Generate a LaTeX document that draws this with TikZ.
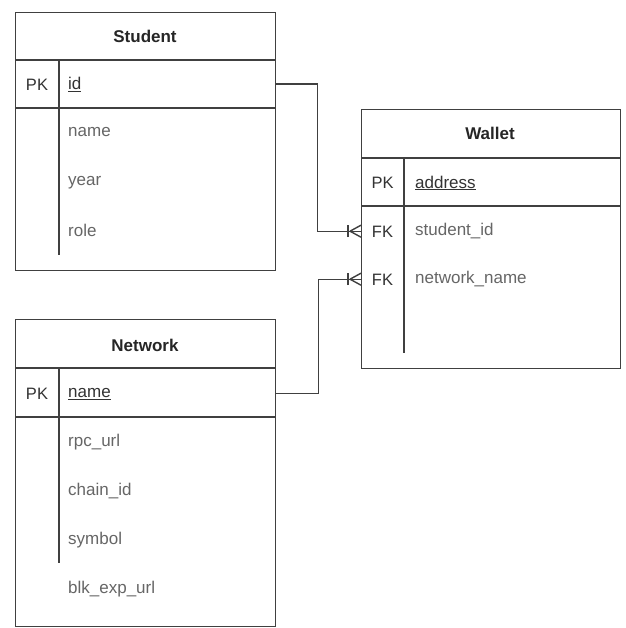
\documentclass[tikz,border=0pt]{standalone}
\usepackage{fontspec}
\setmainfont{Liberation Sans}
\begin{document}
\begin{tikzpicture}[x=1pt,y=-1pt,
  tbl/.style={draw=black!75,line width=1.4pt,fill=white,anchor=north west,inner sep=0pt},
  rowbox/.style={anchor=north west,inner sep=0pt,minimum width=#1,minimum height=48},
  sep/.style={draw=black!75,line width=1.4pt},
  hdr/.style={font=\fontsize{17}{20}\selectfont\bfseries,text=black!85},
  keytxt/.style={font=\fontsize{16.5}{19}\selectfont,text=black!80},
  fld/.style={font=\fontsize{17}{20}\selectfont,text=black!60,anchor=west,inner sep=0pt},
  pkfld/.style={font=\fontsize{17}{20}\selectfont,text=black!80,anchor=west,inner sep=0pt},
  conn/.style={draw=black!75,line width=1.4pt}]
\useasboundingbox (0,0) rectangle (625,628);

% ---------- Student ----------
\node[tbl,minimum width=260,minimum height=258] (student) at (15,12) {};
\node[hdr] (studenthdr) at (145,36) {Student};
\node[rowbox=260] (sidrow) at (15,60) {};
\draw[sep] (15,60) -- (275,60);
\draw[sep] (15,108) -- (275,108);
\draw[sep] (59,60) -- (59,255);
\node[keytxt] (spk) at (37,84.5) {PK};
\node[pkfld] (sid) at (68,84.5) {\underline{id}};
\node[fld] (sname) at (68,132.5) {name};
\node[fld] (syear) at (68,182.5) {year};
\node[fld] (srole) at (68,230.5) {role};

% ---------- Network ----------
\node[tbl,minimum width=260,minimum height=307] (network) at (15,319) {};
\node[hdr] (networkhdr) at (145,345) {Network};
\node[rowbox=260] (nnamerow) at (15,369) {};
\draw[sep] (15,368) -- (275,368);
\draw[sep] (15,417) -- (275,417);
\draw[sep] (59,368) -- (59,563);
\node[keytxt] (npk) at (37,394) {PK};
\node[pkfld] (nname) at (68,394) {\underline{name}};
\node[fld] (nrpc) at (68,442) {rpc\_url};
\node[fld] (nchain) at (68,491.5) {chain\_id};
\node[fld] (nsym) at (68,540.5) {symbol};
\node[fld] (nblk) at (68,589.5) {blk\_exp\_url};

% ---------- Wallet ----------
\node[tbl,minimum width=259,minimum height=259] (wallet) at (361,109) {};
\node[hdr] (wallethdr) at (490,133) {Wallet};
\draw[sep] (361,158) -- (620,158);
\draw[sep] (361,206) -- (620,206);
\draw[sep] (404,158) -- (404,353);
\node[keytxt] (wpk) at (382.5,183) {PK};
\node[pkfld] (waddr) at (415,183) {\underline{address}};
\node[rowbox=259] (wstudrow) at (361,207) {};
\node[rowbox=259] (wnetrow) at (361,255) {};
\node[keytxt] (wfk1) at (382.5,231.5) {FK};
\node[fld] (wstud) at (415,231.5) {student\_id};
\node[keytxt] (wfk2) at (382.5,279.5) {FK};
\node[fld] (wnet) at (415,279.5) {network\_name};

% ---------- Connectors ----------
\draw[conn] (sidrow.east) -- ++(42,0) |- (wstudrow.west);
\draw[conn] (nnamerow.east) -- ++(43,0) |- (wnetrow.west);
% one-or-many markers
\foreach \r in {wstudrow,wnetrow}{
  \draw[conn] ([xshift=-13,yshift=-6]\r.west) -- ([xshift=-13,yshift=6]\r.west);
  \draw[conn] ([xshift=-11]\r.west) -- ([yshift=-6]\r.west);
  \draw[conn] ([xshift=-11]\r.west) -- ([yshift=6]\r.west);
}
\end{tikzpicture}
\end{document}
